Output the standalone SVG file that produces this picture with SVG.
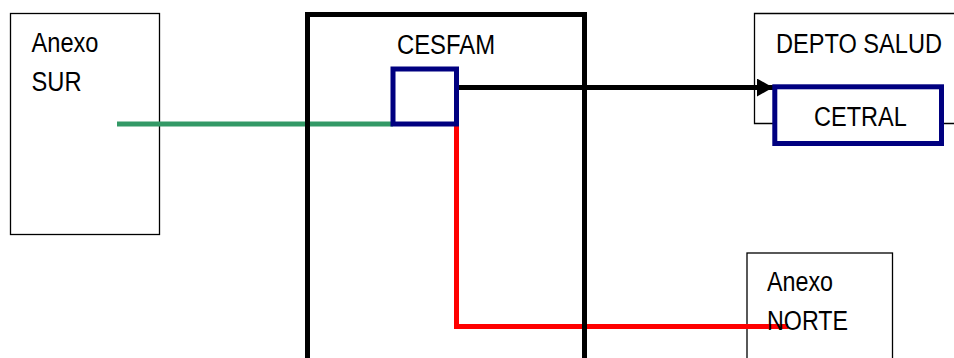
<svg xmlns="http://www.w3.org/2000/svg" width="954" height="358" viewBox="0 0 954 358">
<defs>
<style>
.thin{fill:#fff;stroke:#000;stroke-width:1.3}
.navy{fill:#fff;stroke:#000080;stroke-width:5}
.lbl{font-family:"Liberation Sans",Arial,sans-serif;font-size:27px;fill:#000}
.conn{fill:none;stroke-width:5}
</style>
<marker id="arr" markerUnits="userSpaceOnUse" markerWidth="18" markerHeight="18" refX="16" refY="9" orient="auto">
<path d="M0,0 L16,9 L0,18 Z" fill="#000"/>
</marker>
</defs>
<rect width="954" height="358" fill="#fff"/>
<g id="anexo-sur">
<rect class="thin" x="10.5" y="13.5" width="149" height="221"/>
<text class="lbl" x="31.5" y="52" textLength="67" lengthAdjust="spacingAndGlyphs">Anexo</text>
<text class="lbl" x="31.5" y="91" textLength="50" lengthAdjust="spacingAndGlyphs">SUR</text>
</g>
<g id="depto-salud">
<path class="thin" d="M954,13.5 H754.5 V123.5 H954"/>
<text class="lbl" x="776" y="52.5" textLength="166" lengthAdjust="spacingAndGlyphs">DEPTO SALUD</text>
</g>
<g id="anexo-norte">
<rect class="thin" x="747" y="253" width="145.5" height="120"/>
</g>
<g id="connectors">
<line class="conn" x1="117" y1="124" x2="393" y2="124" stroke="#339966" stroke-width="6"/>
<line class="conn" x1="456" y1="87.5" x2="773" y2="87.5" stroke="#000" stroke-width="4" marker-end="url(#arr)"/>
<polyline class="conn" points="456.5,126 456.5,326.5 788,326.5" stroke="#ff0000"/>
</g>
<g id="cesfam">
<rect x="307.5" y="14.5" width="277" height="360" fill="none" stroke="#000" stroke-width="5"/>
<text class="lbl" x="397" y="54" textLength="98" lengthAdjust="spacingAndGlyphs">CESFAM</text>
<rect id="router" x="393" y="69" width="63.5" height="55" fill="none" stroke="#000080" stroke-width="5"/>
</g>
<g id="cetral">
<rect class="navy" x="774.8" y="86.8" width="166.7" height="56.7"/>
<text class="lbl" x="814" y="126" textLength="92.7" lengthAdjust="spacingAndGlyphs">CETRAL</text>
</g>
<g id="anexo-norte-text">
<text class="lbl" x="767" y="291" textLength="66" lengthAdjust="spacingAndGlyphs">Anexo</text>
<text class="lbl" x="767" y="330" textLength="81" lengthAdjust="spacingAndGlyphs">NORTE</text>
</g>
</svg>
